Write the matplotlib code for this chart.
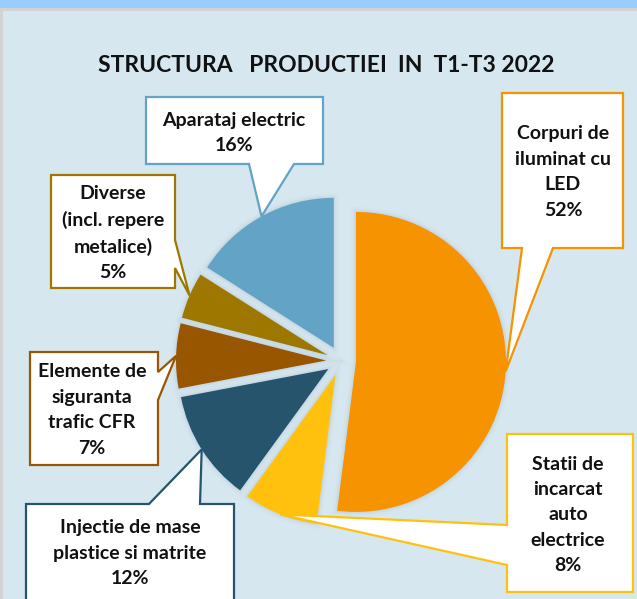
import matplotlib
matplotlib.use("Agg")
import matplotlib.pyplot as plt
import numpy as np
from matplotlib.patches import Polygon, Rectangle, Wedge

# ---------------- data ----------------
categories = ['Corpuri de\niluminat cu\nLED',
              'Statii de\nincarcat\nauto\nelectrice',
              'Injectie de mase\nplastice si matrite',
              'Elemente de\nsiguranta\ntrafic CFR',
              'Diverse\n(incl. repere\nmetalice)',
              'Aparataj electric']
values = [52, 8, 12, 7, 5, 16]
colors = ['#F59300', '#FFC10E', '#26546C', '#985600', '#9E7700', '#62A3C6']
title = 'STRUCTURA   PRODUCTIEI  IN  T1-T3 2022'

# ---------------- layout (image pixel coords, y down) ----------------
W, H = 637, 599
BG = '#d7e7f0'
FONT = 'Lato'
boxes = [
    dict(box=(502, 93, 623, 248), side='bottom', base=(522, 553), text=(563, 172)),
    dict(box=(507, 434, 633, 592), side='left', base=(525, 565), text=(568, 515)),
    dict(box=(26, 504, 234, 604), side='top', base=(149, 200), text=(130, 553)),
    dict(box=(30, 352, 158, 465), side='right', base=(372, 400), text=(92, 410)),
    dict(box=(51, 175, 175, 288), side='right', base=(240, 268), text=(113, 233)),
    dict(box=(146, 97, 323, 164), side='bottom', base=(249, 294), text=(234, 133)),
]

fig = plt.figure(figsize=(W / 100, H / 100), dpi=100)
fig.patch.set_facecolor(BG)
ax = fig.add_axes([0, 0, 1, 1])

def fy(y):
    return H - y

# pie
center = (341, fy(361))
radius = 150
wedges, _ = ax.pie(values, colors=colors, startangle=90, counterclock=False,
                   explode=[0.1 * radius] * len(values), center=center, radius=radius,
                   frame=True, wedgeprops=dict(linewidth=0, zorder=3))
ax.set_xlim(0, W)
ax.set_ylim(0, H)
ax.set_aspect('equal')
ax.axis('off')

# top band and frame strips
ax.add_patch(Rectangle((0, fy(8)), W, 8, facecolor='#99ccff', edgecolor='none', zorder=1))
ax.add_patch(Rectangle((0, fy(11)), W, 3, facecolor='#d3d3d3', edgecolor='none', zorder=1))
ax.add_patch(Rectangle((0, 0), 3, fy(8), facecolor='#d3d3d3', edgecolor='none', zorder=1))

# soft shadow behind wedges
for w in wedges:
    for lw, a in [(7, 0.04), (4, 0.06), (2, 0.08)]:
        sh = Wedge(w.center, w.r, w.theta1, w.theta2, facecolor='none',
                   edgecolor='#7f9fb2', linewidth=lw, alpha=a, zorder=2)
        ax.add_patch(sh)

# callouts
for w, cat, v, col, spec in zip(wedges, categories, values, colors, boxes):
    mid = np.deg2rad((w.theta1 + w.theta2) / 2)
    tip = (w.center[0] + w.r * np.cos(mid), w.center[1] + w.r * np.sin(mid))
    l, t, r, b = spec['box']
    a1, a2 = spec['base']
    tipi = (tip[0], H - tip[1])
    side = spec['side']
    if side == 'bottom':
        pts = [(l, t), (r, t), (r, b), (a2, b), tipi, (a1, b), (l, b)]
    elif side == 'top':
        pts = [(l, t), (a1, t), tipi, (a2, t), (r, t), (r, b), (l, b)]
    elif side == 'left':
        pts = [(l, t), (r, t), (r, b), (l, b), (l, a2), tipi, (l, a1)]
    else:  # right
        pts = [(l, t), (r, t), (r, a1), tipi, (r, a2), (r, b), (l, b)]
    pts = [(x, fy(y)) for x, y in pts]
    ax.add_patch(Polygon(pts, closed=True, facecolor='white', edgecolor=col,
                         linewidth=1.6, joinstyle='miter', zorder=5))
    tx, ty = spec['text']
    ax.text(tx, fy(ty), f'{cat}\n{v}%', ha='center', va='center', multialignment='center',
            fontsize=14, fontweight='bold', family=FONT, color='#111111',
            linespacing=1.6, zorder=6)

ax.text(326, fy(65), title, ha='center', va='center', fontsize=16.5,
        fontweight='bold', family=FONT, color='#111111', zorder=6)

fig.savefig('out.png', dpi=100, facecolor=BG)
